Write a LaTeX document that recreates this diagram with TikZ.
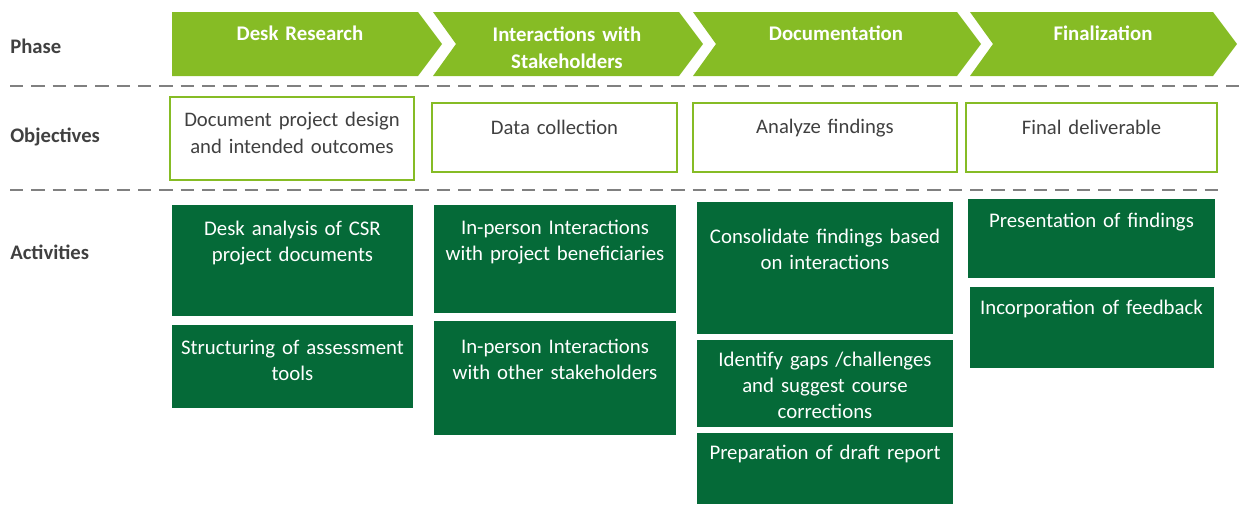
\documentclass[tikz,border=0pt]{standalone}
\usepackage{fontspec}
\setmainfont{Carlito}

\definecolor{phasegreen}{HTML}{86BC25}
\definecolor{actgreen}{HTML}{056A38}
\definecolor{labelgray}{HTML}{404040}
\definecolor{rulegray}{HTML}{808080}

\tikzset{
  phase/.style = {fill = phasegreen},
  phasetext/.style = {anchor = north, inner sep = 0pt, text height = 0pt, text width = 230pt,
    align = center, text = white, font = \bfseries\fontsize{15.6}{20.25}\selectfont},
  rule/.style = {color = rulegray, line width = 2.2pt, dash pattern = on 10pt off 6pt},
  rowlabel/.style = {anchor = base west, inner sep = 0pt, text = labelgray,
    font = \bfseries\fontsize{15.5}{18}\selectfont},
  objbox/.style = {draw = phasegreen, line width = 1.9pt, fill = white},
  objtext/.style = {anchor = north, inner sep = 0pt, text height = 0pt, text width = 190pt,
    align = center, text = labelgray, font = \fontsize{15.5}{20.25}\selectfont},
  actbox/.style = {fill = actgreen},
  acttext/.style = {anchor = north, inner sep = 0pt, text height = 0pt, text width = 190pt,
    align = center, text = white, font = \fontsize{15.6}{19.5}\selectfont}
}

\begin{document}
\begin{tikzpicture}[x=0.75pt,y=-0.75pt]
    \useasboundingbox (0,0) rectangle (1246,504);

    % phases
    \fill [phase] (172,12) -- (418,12) -- (442,44) -- (418,76) -- (172,76) -- cycle;
    \fill [phase] (433,12) -- (679,12) -- (703,44) -- (679,76) -- (433,76) -- (456,44) -- cycle;
    \fill [phase] (693,12) -- (957,12) -- (981,44) -- (957,76) -- (693,76) -- (716,44) -- cycle;
    \fill [phase] (970,12) -- (1213,12) -- (1237,44) -- (1213,76) -- (970,76) -- (993,44) -- cycle;
      \node [phasetext] (deskresearch) at (300,39.5) {Desk Research};
      \node [phasetext] (interactions) at (567,41.5) {Interactions with\\Stakeholders};
      \node [phasetext] (documentation) at (836,40) {Documentation};
      \node [phasetext] (finalization) at (1103,40) {Finalization};

    \draw [rule] (10,86) -- (1246,86);
    \draw [rule] (10,190) -- (1222,190);

    \node [rowlabel] (phaselabel) at (10,53) {Phase};
    \node [rowlabel] (objlabel) at (10,142) {Objectives};
    \node [rowlabel] (actlabel) at (10,259) {Activities};

    % objectives
    \draw [objbox] (170,97) rectangle (414,180);
      \node [objtext] (obj1) at (292,126.5) {Document project design\\and intended outcomes};
    \draw [objbox] (432,103) rectangle (677,172);
      \node [objtext] (obj2) at (554.5,133.5) {Data collection};
    \draw [objbox] (693,103) rectangle (957,172);
      \node [objtext] (obj3) at (825,133.5) {Analyze findings};
    \draw [objbox] (966,103) rectangle (1217,172);
      \node [objtext] (obj4) at (1091.5,133.5) {Final deliverable};

    % activities
    \fill [actbox] (172,205) rectangle (413,316);
      \node [acttext] (act11) at (292.5,235.5) {Desk analysis of CSR\\project documents};
    \fill [actbox] (172,325) rectangle (413,408);
      \node [acttext] (act12) at (292.5,354.5) {Structuring of assessment\\tools};
    \fill [actbox] (434,205) rectangle (676,313);
      \node [acttext] (act21) at (555,234.5) {In-person Interactions\\with project beneficiaries};
    \fill [actbox] (434,321) rectangle (676,435);
      \node [acttext] (act22) at (555,353.5) {In-person Interactions\\with other stakeholders};
    \fill [actbox] (697,202) rectangle (953,334);
      \node [acttext] (act31) at (825,243.5) {Consolidate findings based\\on interactions};
    \fill [actbox] (697,340) rectangle (953,427);
      \node [acttext] (act32) at (825,366.5) {Identify gaps /challenges\\and suggest course\\corrections};
    \fill [actbox] (697,433) rectangle (953,504);
      \node [acttext] (act33) at (825,459.5) {Preparation of draft report};
    \fill [actbox] (968,199) rectangle (1215,278);
      \node [acttext] (act41) at (1091.5,227.5) {Presentation of findings};
    \fill [actbox] (970,287) rectangle (1214,368);
      \node [acttext] (act42) at (1091.5,314.5) {Incorporation of feedback};
\end{tikzpicture}
\end{document}
